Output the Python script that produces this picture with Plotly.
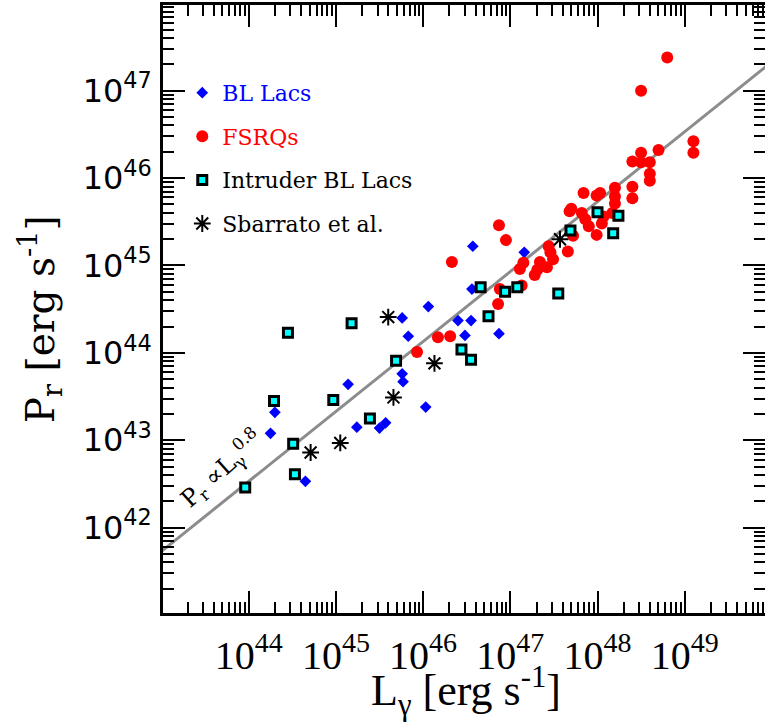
import plotly.graph_objects as go
import numpy as np

# ---- data (log10 of luminosity / power) ----
bl_logL = [46.57, 47.16, 46.56, 46.55, 46.40, 46.48, 46.87, 46.06, 45.76, 45.83,
           45.76, 45.77, 46.03, 45.14, 45.50, 45.57, 45.24, 44.30, 44.25, 44.65]
bl_logP = [45.22, 45.15, 44.73, 44.37, 44.37, 44.20, 44.22, 44.53, 44.40, 44.19,
           43.76, 43.67, 43.38, 43.64, 43.14, 43.20, 43.15, 43.32, 43.08, 42.53]

fsrq_logL = [48.80, 48.50, 49.10, 49.10, 48.70, 48.50, 48.40, 48.50, 48.60, 48.60,
             48.60, 48.40, 48.40, 48.20, 48.20, 48.20, 48.17, 48.03, 47.99, 47.84,
             47.70, 47.68, 47.82, 47.86, 47.90, 47.99, 48.05, 48.07, 47.72, 47.66,
             47.44, 47.46, 47.49, 47.42, 47.34, 47.31, 47.28, 47.15, 47.11, 47.13,
             46.88, 46.86, 46.87, 46.95, 46.33, 45.93, 46.17, 46.31]
fsrq_logP = [47.38, 47.00, 46.42, 46.29, 46.32, 46.29, 46.19, 46.18, 46.18, 46.05,
             45.97, 45.90, 45.77, 45.89, 45.79, 45.71, 45.60, 45.83, 45.80, 45.83,
             45.65, 45.62, 45.60, 45.53, 45.45, 45.35, 45.48, 45.56, 45.34, 45.16,
             45.22, 45.15, 45.07, 44.98, 45.04, 44.95, 44.89, 45.03, 44.96, 44.77,
             44.73, 44.56, 45.46, 45.29, 45.04, 44.01, 44.18, 44.19]

intr_logL = [44.45, 45.18, 44.29, 44.97, 44.51, 44.53, 43.96, 45.69, 45.39, 46.44,
             46.55, 46.75, 46.66, 46.94, 47.08, 47.55, 47.69, 48.00, 48.24, 48.18]
intr_logP = [44.23, 44.34, 43.45, 43.46, 42.96, 42.61, 42.46, 43.91, 43.25, 44.04,
             43.92, 44.42, 44.75, 44.70, 44.75, 44.68, 45.40, 45.61, 45.57, 45.37]

sb_logL = [45.60, 46.13, 45.66, 45.05, 44.71, 47.57]
sb_logP = [44.41, 43.88, 43.49, 42.97, 42.86, 45.30]

fit_slope = 0.8
fit_intercept_at43 = 41.73
fit_logL = [42.9, 50.0]

x_tickvals = [1e44, 1e45, 1e46, 1e47, 1e48, 1e49]
x_ticktext = ["10<sup>44</sup>", "10<sup>45</sup>", "10<sup>46</sup>",
              "10<sup>47</sup>", "10<sup>48</sup>", "10<sup>49</sup>"]
y_tickvals = [1e42, 1e43, 1e44, 1e45, 1e46, 1e47]
y_ticktext = ["10<sup>42</sup>", "10<sup>43</sup>", "10<sup>44</sup>",
              "10<sup>45</sup>", "10<sup>46</sup>", "10<sup>47</sup>"]

def pw(a):
    return [10.0 ** v for v in a]

fig = go.Figure()

fit_logP = [fit_intercept_at43 + fit_slope * (v - 43.0) for v in fit_logL]
fig.add_trace(go.Scatter(x=pw(fit_logL), y=pw(fit_logP), mode="lines",
                         line=dict(color="#8c8c8c", width=3), showlegend=False,
                         hoverinfo="skip"))

fig.add_trace(go.Scatter(x=pw(bl_logL), y=pw(bl_logP), mode="markers",
                         name='<span style="color:#0000ff">BL Lacs</span>',
                         legendgroup="a",
                         marker=dict(symbol="diamond", size=9, color="#0000ff",
                                     line=dict(width=0))))
fig.add_trace(go.Scatter(x=pw(fsrq_logL), y=pw(fsrq_logP), mode="markers",
                         name='<span style="color:#ff0000">FSRQs</span>',
                         legendgroup="b",
                         marker=dict(symbol="circle", size=12, color="#ff0000",
                                     line=dict(width=0))))
fig.add_trace(go.Scatter(x=pw(intr_logL), y=pw(intr_logP), mode="markers",
                         name="Intruder BL Lacs", legendgroup="c",
                         marker=dict(symbol="square", size=9, color="#00ffff",
                                     line=dict(width=3, color="black"))))
fig.add_trace(go.Scatter(x=pw(sb_logL), y=pw(sb_logP), mode="markers",
                         name="Sbarrato et al.", legendgroup="d",
                         marker=dict(symbol="asterisk-open", size=14,
                                     color="black",
                                     line=dict(width=2, color="black"))))

axis_common = dict(type="log", showline=True, linewidth=2.5, linecolor="black",
                   mirror="ticks", ticks="inside", ticklen=22, tickwidth=2,
                   tickcolor="black", showgrid=False, zeroline=False,
                   tickmode="array", automargin=False,
                   minor=dict(ticks="inside", ticklen=11, tickwidth=2,
                              tickcolor="black", dtick="D1", showgrid=False))

fig.update_xaxes(**axis_common, range=[43.017, 49.921],
                 tickvals=x_tickvals, ticktext=x_ticktext,
                 tickfont=dict(family="Liberation Serif", size=40, color="black"),
                 ticklabelstandoff=5)
fig.update_yaxes(**axis_common, range=[41.024, 47.98],
                 tickvals=y_tickvals, ticktext=y_ticktext,
                 tickfont=dict(family="DejaVu Sans", size=32, color="black"),
                 ticklabelstandoff=2)

fig.add_annotation(text="P<sub>r</sub> [erg s<sup>-1</sup>]", xref="paper", yref="paper",
                   x=-0.203, y=0.483, xanchor="center", yanchor="middle",
                   textangle=-90, showarrow=False,
                   font=dict(family="DejaVu Serif", size=39, color="black"))
fig.add_annotation(text="L<sub>γ</sub> [erg s<sup>-1</sup>]", xref="paper", yref="paper",
                   x=0.503, y=-0.128, xanchor="center", yanchor="middle",
                   showarrow=False,
                   font=dict(family="Liberation Serif", size=44, color="black"))
fig.add_annotation(text="P<sub>r</sub> ∝L<sub>γ</sub><sup>0.8</sup>", xref="x", yref="y",
                   x=43.69, y=42.68, xanchor="center", yanchor="middle",
                   textangle=-42, showarrow=False,
                   font=dict(family="DejaVu Serif", size=24, color="black"))

fig.update_layout(width=765, height=723,
                  margin=dict(l=163, r=0, t=5, b=110, autoexpand=False),
                  plot_bgcolor="white", paper_bgcolor="white",
                  legend=dict(x=0.032, y=0.89, xanchor="left", yanchor="top",
                              bgcolor="rgba(0,0,0,0)", tracegroupgap=12,
                              font=dict(family="DejaVu Serif", size=22, color="black")),
                  showlegend=True)

fig.write_html("out.html", config={"displayModeBar": False},
               post_script="document.body.style.margin='0px';")
